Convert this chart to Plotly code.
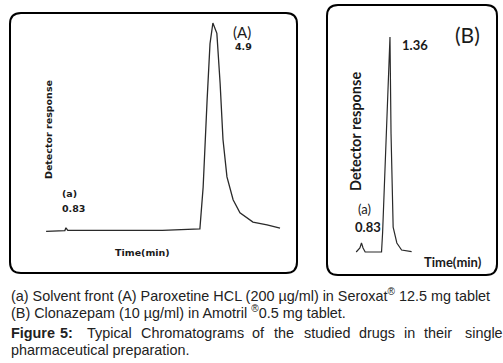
import plotly.graph_objects as go

# ---- Data ----
# Panel A: Paroxetine HCl chromatogram (time in min, detector response in % of peak)
time_a = [0.28, 0.80, 0.83, 0.88, 2.00, 3.50, 4.54, 4.63, 4.74, 4.82, 4.90, 5.01, 5.10,
          5.18, 5.29, 5.46, 5.65, 6.01, 6.40, 6.76]
resp_a = [-0.2, 0.2, 1.5, 0.3, 0.3, 0.3, 1.0, 21, 63, 90, 100, 95, 71,
          44, 26, 15, 8.7, 4.3, 2.9, 1.4]
# Panel B: Clonazepam chromatogram
time_b = [0.72, 0.79, 0.82, 0.85, 0.89, 1.20, 1.22, 1.27, 1.32, 1.36, 1.38, 1.40, 1.42,
          1.49, 1.58, 1.77]
resp_b = [0, 1.9, 4.2, 1.9, 0, 0, 8.8, 39.5, 78.6, 100, 55, 24, 11.6,
          4.2, 0.9, 0.2]

peak_a_label = "4.9"
peak_b_label = "1.36"
solvent_label = "0.83"

W, H = 503, 363

def px(x):
    return x / W

def py(y):
    return 1 - y / H

fig = go.Figure()
fig.add_trace(go.Scatter(x=time_a, y=resp_a, mode="lines", xaxis="x", yaxis="y",
                         line=dict(color="#2a2a2a", width=1.3), showlegend=False,
                         hoverinfo="skip"))
fig.add_trace(go.Scatter(x=time_b, y=resp_b, mode="lines", xaxis="x2", yaxis="y2",
                         line=dict(color="#2a2a2a", width=1.2), showlegend=False,
                         hoverinfo="skip"))

ax_common = dict(visible=False, showgrid=False, zeroline=False, fixedrange=True)
fig.update_layout(
    width=W, height=H,
    margin=dict(l=0, r=0, t=0, b=0),
    paper_bgcolor="white", plot_bgcolor="rgba(0,0,0,0)",
    xaxis=dict(domain=[px(10), px(297)], range=[-0.72, 7.23], anchor="y", **ax_common),
    yaxis=dict(domain=[py(273), py(13)], range=[-20.2, 104.8], anchor="x", **ax_common),
    xaxis2=dict(domain=[px(327), px(497)], range=[0.167, 3.387], anchor="y2", **ax_common),
    yaxis2=dict(domain=[py(275), py(5)], range=[-10.7, 114.9], anchor="x2", **ax_common),
)

def rounded_box(x0, y0, x1, y1, r):
    pts = [
        f"M {px(x0 + r)},{py(y0)}",
        f"L {px(x1 - r)},{py(y0)}",
        f"Q {px(x1)},{py(y0)} {px(x1)},{py(y0 + r)}",
        f"L {px(x1)},{py(y1 - r)}",
        f"Q {px(x1)},{py(y1)} {px(x1 - r)},{py(y1)}",
        f"L {px(x0 + r)},{py(y1)}",
        f"Q {px(x0)},{py(y1)} {px(x0)},{py(y1 - r)}",
        f"L {px(x0)},{py(y0 + r)}",
        f"Q {px(x0)},{py(y0)} {px(x0 + r)},{py(y0)}",
        "Z",
    ]
    return dict(type="path", xref="paper", yref="paper", path=" ".join(pts),
                line=dict(color="black", width=2), fillcolor="rgba(0,0,0,0)")

fig.update_layout(shapes=[rounded_box(10, 13, 297, 273, 11),
                          rounded_box(327, 5, 497, 275, 11)])

ann = []

def text(x, y, s, size, family, bold=False, angle=0, xanchor="center", color="#1a1a1a"):
    ann.append(dict(x=px(x), y=py(y), xref="paper", yref="paper", text=(f"<b>{s}</b>" if bold else s),
                    showarrow=False, textangle=angle, xanchor=xanchor, yanchor="middle",
                    font=dict(size=size, family=family, color=color)))

dv = "DejaVu Sans"
lato = "Lato"
# Panel A labels
text(48, 130, "Detector response", 9.5, dv, bold=True, angle=-90)
text(60, 193, "(a)", 9.5, dv, bold=True, xanchor="left")
text(60, 208, solvent_label, 9.5, dv, bold=True, xanchor="left")
text(242, 32, "(A)", 15, lato)
text(243, 47, peak_a_label, 9.5, dv, bold=True)
text(142, 252, "Time(min)", 9.5, dv, bold=True)
# Panel B labels
text(355, 132, "Detector response", 14.5, lato, bold=True, angle=-90)
text(467, 34, "(B)", 21, lato)
text(415, 45, peak_b_label, 13, lato, bold=True)
text(364, 209, "(a)", 13, lato)
text(368, 227, solvent_label, 13, lato, bold=True)
text(453, 262, "Time(min)", 13, lato, bold=True)

# Caption
cap = "Liberation Sans"
cs = 14.4
text(9, 295, "(a) Solvent front (A) Paroxetine HCL (200 µg/ml) in Seroxat<sup>®</sup> 12.5 mg tablet",
     cs, cap, xanchor="left", color="#222")
text(9, 312, "(B) Clonazepam (10 µg/ml) in Amotril <sup>®</sup>0.5 mg tablet.",
     cs, cap, xanchor="left", color="#222")
words3 = [("<b>Figure</b>", 9), ("<b>5:</b>", 58), ("Typical", 85), ("Chromatograms", 139),
          ("of", 250), ("the", 272), ("studied", 302), ("drugs", 357), ("in", 402),
          ("their", 422), ("single", 463)]
for w, x in words3:
    text(x, 333, w, cs, cap, xanchor="left", color="#222")
text(9, 350, "pharmaceutical preparation.", cs, cap, xanchor="left", color="#222")

fig.update_layout(annotations=ann)
fig.write_html("out.html", config={"displayModeBar": False},
               post_script="document.body.style.margin='0';")
